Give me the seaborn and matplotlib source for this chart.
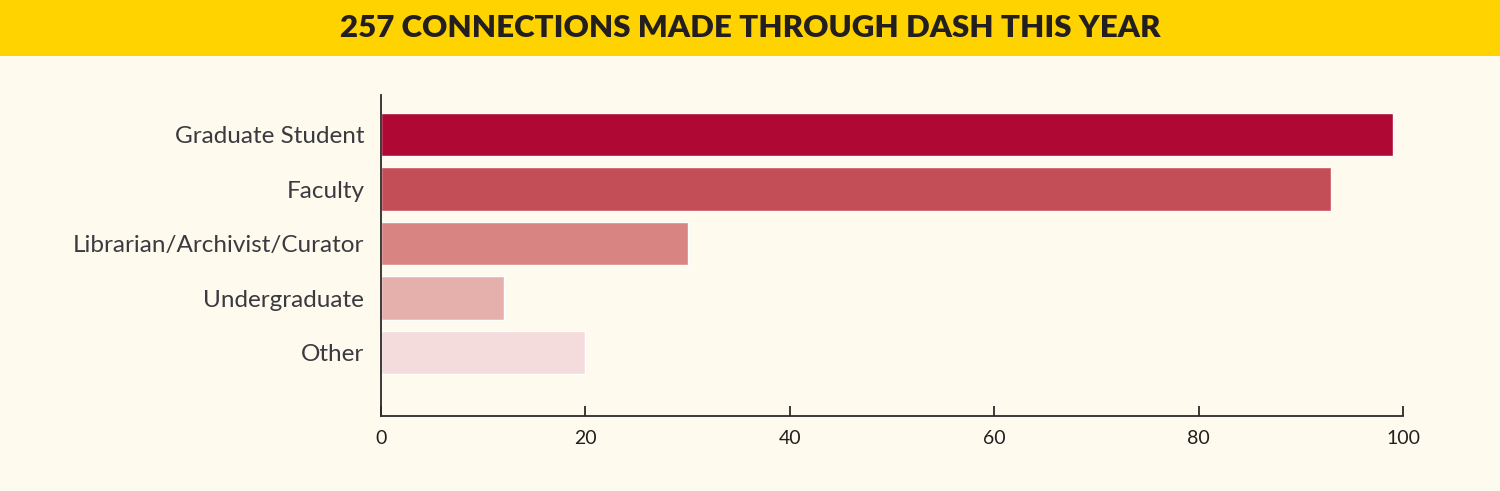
import pandas as pd
import matplotlib.pyplot as plt
import seaborn as sns

# Data
categories = ['Graduate Student', 'Faculty', 'Librarian/Archivist/Curator', 'Undergraduate', 'Other']
connections = [99, 93, 30, 12, 20]
bar_colors = ['#B00835', '#C44E57', '#D88482', '#E5B0AC', '#F5DCDC']
x_ticks = [0, 20, 40, 60, 80, 100]

df = pd.DataFrame({'Role': categories, 'Connections': connections})

sns.set_style('white')
plt.rcParams['font.family'] = ['Lato', 'DejaVu Sans']

bg = '#FEFAEE'
fig = plt.figure(figsize=(15, 4.91), dpi=100, facecolor=bg)

# Yellow header band
fig.patches.append(plt.Rectangle((0, 1 - 56 / 491), 1, 56 / 491, transform=fig.transFigure,
                                 facecolor='#FFD300', edgecolor='none', zorder=0))
fig.text(0.5, 1 - 28 / 491, '257 CONNECTIONS MADE THROUGH DASH THIS YEAR',
         ha='center', va='center', fontsize=22.5, fontweight='heavy', color='#231F20')

ax = fig.add_axes([381 / 1500, 1 - 416 / 491, 1022 / 1500, 321 / 491])
ax.set_facecolor(bg)

sns.barplot(data=df, x='Connections', y='Role', hue='Role', palette=bar_colors,
            width=0.79, legend=False, ax=ax, saturation=1)

ax.set_xlim(0, 100)
ax.set_ylim(5.165, -0.725)
ax.set_xticks(x_ticks)
ax.set_xlabel('')
ax.set_ylabel('')

for s in ['top', 'right']:
    ax.spines[s].set_visible(False)
for s in ['left', 'bottom']:
    ax.spines[s].set_color('#2b2b2b')
    ax.spines[s].set_linewidth(1.3)

ax.tick_params(axis='x', bottom=True, direction='in', length=7, width=1.3, color='#2b2b2b',
               labelsize=14, labelcolor='#231F20', pad=10)
ax.tick_params(axis='y', left=False, length=0, labelsize=17.5, labelcolor='#3a3a40', pad=12)

fig.savefig('out.png', dpi=100, facecolor=bg)
